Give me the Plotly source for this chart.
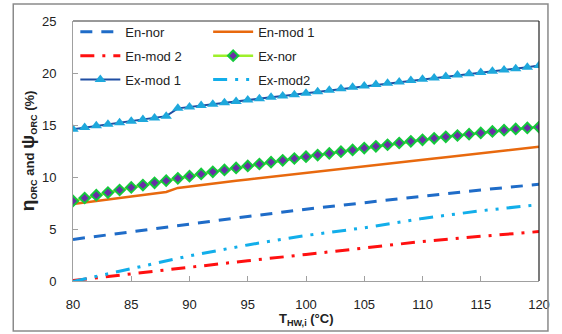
import plotly.graph_objects as go

# ---- data ----
t_all = list(range(80, 121))
t_5 = [80, 85, 90, 95, 100, 105, 110, 115, 120]

en_nor = [4.0, 4.75, 5.5, 6.2, 6.9, 7.55, 8.15, 8.75, 9.3]
en_mod2 = [0.05, 0.7, 1.35, 1.95, 2.55, 3.2, 3.8, 4.3, 4.75]
ex_mod2 = [-0.05, 1.18, 2.42, 3.47, 4.38, 5.12, 6.02, 6.75, 7.35]

en_mod1 = [7.4, 7.55, 7.7, 7.85, 7.99, 8.13, 8.27, 8.41, 8.56, 8.95,
           9.1, 9.24, 9.37, 9.5, 9.63, 9.76, 9.89, 10.02, 10.15, 10.28,
           10.41, 10.54, 10.67, 10.8, 10.93, 11.06, 11.18, 11.3, 11.42, 11.54,
           11.66, 11.78, 11.9, 12.02, 12.14, 12.26, 12.38, 12.5, 12.62, 12.74, 12.9]

ex_nor = [7.7, 7.98, 8.25, 8.5, 8.75, 9.0, 9.22, 9.44, 9.65, 9.87,
          10.08, 10.29, 10.5, 10.68, 10.87, 11.06, 11.25, 11.43, 11.6, 11.78,
          11.95, 12.11, 12.27, 12.43, 12.6, 12.78, 12.95, 13.1, 13.27, 13.43,
          13.58, 13.72, 13.86, 13.99, 14.12, 14.24, 14.38, 14.5, 14.62, 14.72, 14.8]

ex_mod1 = [14.6, 14.76, 14.92, 15.07, 15.22, 15.37, 15.52, 15.67, 15.85, 16.6,
           16.74, 16.87, 17.0, 17.13, 17.26, 17.4, 17.53, 17.66, 17.79, 17.92,
           18.05, 18.2, 18.34, 18.48, 18.62, 18.76, 18.9, 19.02, 19.14, 19.27,
           19.4, 19.53, 19.66, 19.8, 19.92, 20.04, 20.16, 20.28, 20.4, 20.55, 20.72]

x_ticks = [80, 85, 90, 95, 100, 105, 110, 115, 120]
y_ticks = [0, 5, 10, 15, 20, 25]

FONT = "Liberation Sans, Arial, sans-serif"

fig = go.Figure()

fig.add_trace(go.Scatter(x=t_5, y=en_nor, name="En-nor", mode="lines",
                         line=dict(color="#1f6cc8", width=3, dash="12px,9px"),
                         legend="legend", legendgroup="a"))
fig.add_trace(go.Scatter(x=t_5, y=en_mod2, name="En-mod 2", mode="lines",
                         line=dict(color="#ff1010", width=3, dash="14px,8px,3px,8px"),
                         legend="legend", legendgroup="b"))
fig.add_trace(go.Scatter(x=t_all, y=ex_mod1, name="Ex-mod 1", mode="lines+markers",
                         line=dict(color="#1f4ea3", width=2),
                         marker=dict(symbol="triangle-up", size=10, color="#1ea8dc"),
                         legend="legend", legendgroup="c"))

fig.add_trace(go.Scatter(x=t_all, y=en_mod1, name="En-mod 1", mode="lines",
                         line=dict(color="#e8690e", width=2.5),
                         legend="legend2", legendgroup="d"))
fig.add_trace(go.Scatter(x=t_all, y=ex_nor, name="Ex-nor", mode="lines+markers",
                         line=dict(color="#9ef02a", width=2.5),
                         marker=dict(symbol="diamond", size=8, color="#6a2ca8",
                                     line=dict(color="#14c83c", width=2)),
                         legend="legend2", legendgroup="e"))
fig.add_trace(go.Scatter(x=t_5, y=ex_mod2, name="Ex-mod2", mode="lines",
                         line=dict(color="#12aeea", width=3, dash="14px,8px,3px,8px,3px,8px"),
                         legend="legend2", legendgroup="f"))

axis_common = dict(showgrid=False, zeroline=False, showline=True, linecolor="#a0a0a0",
                   linewidth=1, ticks="inside", ticklen=5, tickcolor="#a0a0a0",
                   tickfont=dict(family=FONT, size=13, color="#222"))

fig.update_layout(
    width=562, height=334,
    margin=dict(l=73, r=21, t=21, b=53),
    paper_bgcolor="white", plot_bgcolor="white",
    font=dict(family=FONT, size=13, color="#222"),
    xaxis=dict(range=[80, 120], tickvals=x_ticks, ticktext=[str(v) for v in x_ticks],
               ticklabelstandoff=11, **axis_common),
    yaxis=dict(range=[0, 25], tickvals=y_ticks, ticktext=[str(v) for v in y_ticks],
               ticklabelstandoff=13, **axis_common),
    legend=dict(x=0.005, y=1.016, xanchor="left", yanchor="top", bgcolor="rgba(0,0,0,0)",
                font=dict(family=FONT, size=13, color="#222"), tracegroupgap=4,
                itemwidth=40),
    legend2=dict(x=0.29, y=1.016, xanchor="left", yanchor="top", bgcolor="rgba(0,0,0,0)",
                 font=dict(family=FONT, size=13, color="#222"), tracegroupgap=4,
                 itemwidth=40),
    showlegend=True,
)

# top and right frame lines of plot area
fig.add_shape(type="line", xref="paper", yref="paper", x0=0, x1=1, y0=1, y1=1,
              line=dict(color="#333", width=1))
fig.add_shape(type="line", xref="paper", yref="paper", x0=1, x1=1, y0=0, y1=1,
              line=dict(color="#222", width=1.2))
# outer chart border
fig.add_shape(type="rect", xref="paper", yref="paper",
              x0=(13 - 73) / 468, x1=(550 - 73) / 468,
              y0=(281 - 331) / 260, y1=(281 - 4) / 260,
              line=dict(color="#8a8a8a", width=1.5))

fig.add_annotation(xref="paper", yref="paper", x=0.5, y=(281 - 319) / 260,
                   xanchor="center", yanchor="middle",
                   text="<b>T<sub>HW,i</sub> (°C)</b>", showarrow=False,
                   font=dict(family=FONT, size=13, color="#222"))
fig.add_annotation(xref="paper", yref="paper", x=(28 - 73) / 468, y=0.5, textangle=-90,
                   xanchor="center", yanchor="middle",
                   text="<b><span style='font-size:19px'>η</span><sub>ORC</sub> and "
                        "<span style='font-size:19px'>ψ</span><sub>ORC</sub> (%)</b>",
                   showarrow=False, font=dict(family=FONT, size=13, color="#222"))

fig.write_html("out.html", config={"displayModeBar": False},
               post_script="document.body.style.margin='0';document.body.style.overflow='hidden';")
